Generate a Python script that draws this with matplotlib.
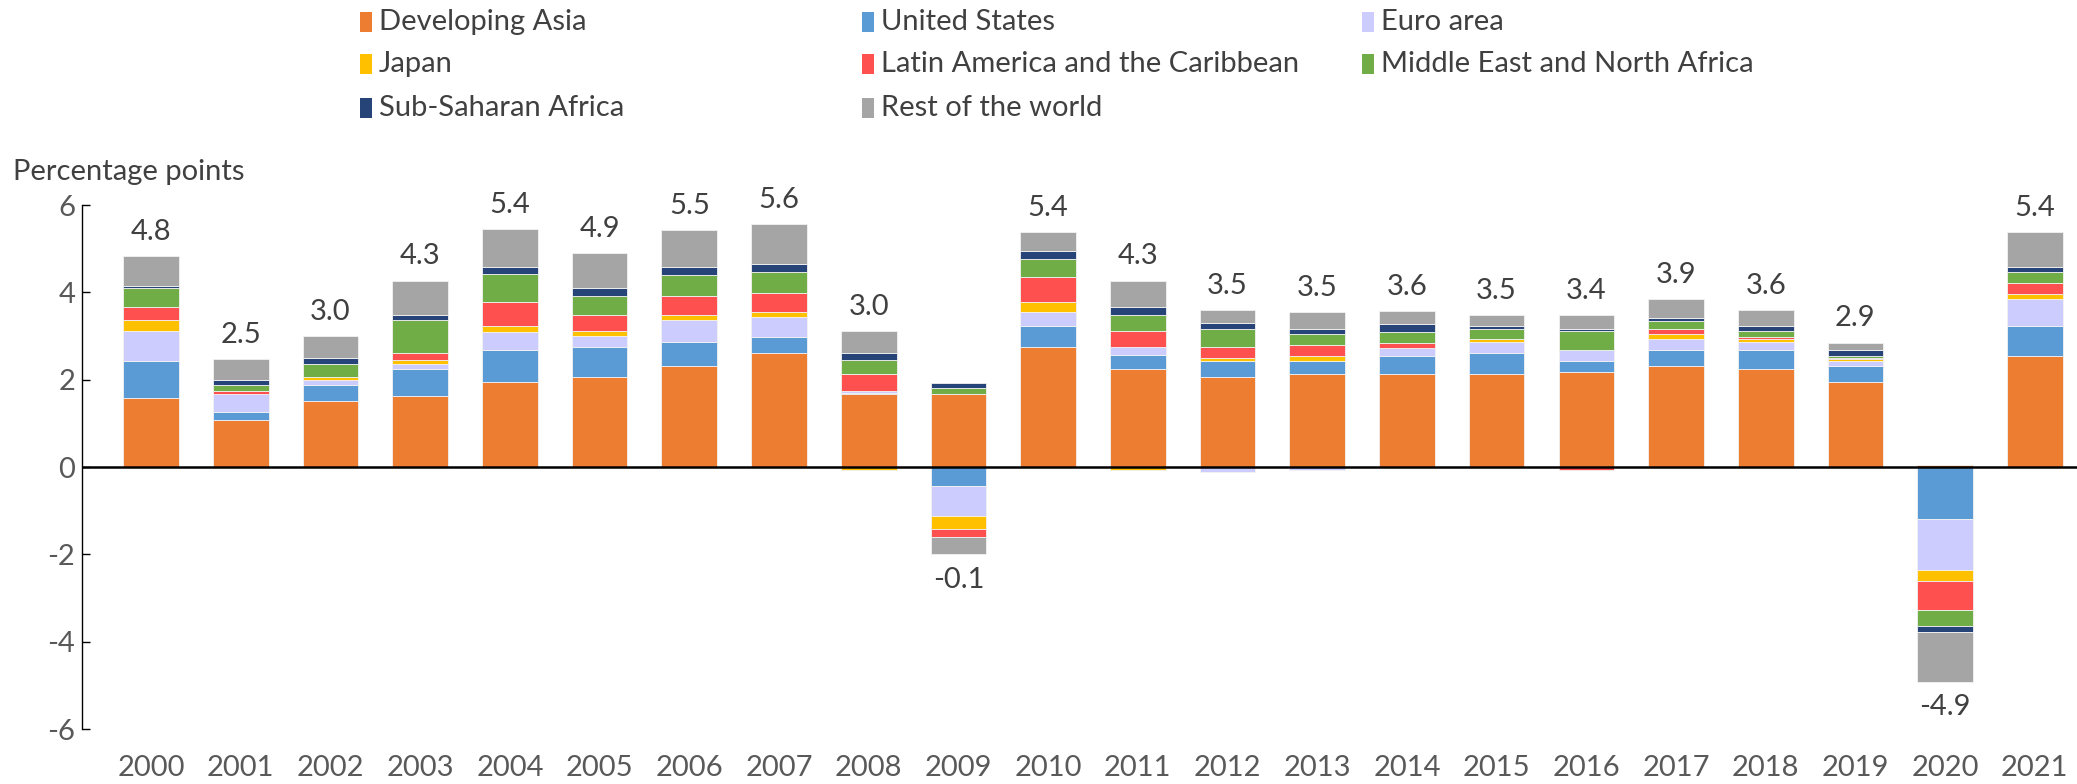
import matplotlib
matplotlib.use("Agg")
import matplotlib.pyplot as plt
from matplotlib.patches import Rectangle
import numpy as np

plt.rcParams['font.family'] = ['Lato', 'DejaVu Sans']

years = [str(y) for y in range(2000, 2022)]
series_names = ["Developing Asia", "United States", "Euro area", "Japan",
                "Latin America and the Caribbean", "Middle East and North Africa",
                "Sub-Saharan Africa", "Rest of the world"]
colors = ["#ED7D31", "#5B9BD5", "#CCCCFF", "#FFC000", "#FF5050", "#70AD47", "#264478", "#A5A5A5"]

developing_asia = [1.58, 1.08, 1.51, 1.63, 1.95, 2.06, 2.31, 2.62, 1.68, 1.68, 2.74, 2.25, 2.06, 2.12, 2.12, 2.12, 2.18, 2.31, 2.25, 1.95, 0.04, 2.55]
united_states = [0.85, 0.18, 0.36, 0.61, 0.72, 0.68, 0.55, 0.36, 0.02, -0.44, 0.48, 0.31, 0.37, 0.30, 0.43, 0.49, 0.24, 0.36, 0.42, 0.36, -1.19, 0.68]
euro_area = [0.68, 0.42, 0.13, 0.13, 0.43, 0.25, 0.50, 0.45, 0.05, -0.68, 0.32, 0.18, -0.12, -0.06, 0.18, 0.25, 0.25, 0.25, 0.19, 0.12, -1.17, 0.62]
japan = [0.25, 0.0, 0.05, 0.07, 0.14, 0.12, 0.12, 0.12, -0.08, -0.30, 0.25, -0.06, 0.06, 0.13, 0.0, 0.06, 0.0, 0.13, 0.06, 0.05, -0.25, 0.12]
latin_america = [0.31, 0.07, 0.01, 0.18, 0.55, 0.37, 0.43, 0.43, 0.38, -0.18, 0.55, 0.37, 0.25, 0.25, 0.12, 0.0, -0.08, 0.12, 0.06, 0.02, -0.67, 0.25]
mena = [0.43, 0.12, 0.31, 0.74, 0.62, 0.43, 0.49, 0.49, 0.31, 0.13, 0.43, 0.37, 0.43, 0.25, 0.25, 0.25, 0.44, 0.18, 0.13, 0.05, -0.37, 0.24]
ssa = [0.05, 0.12, 0.12, 0.12, 0.18, 0.18, 0.18, 0.18, 0.18, 0.12, 0.18, 0.18, 0.12, 0.12, 0.18, 0.06, 0.05, 0.06, 0.12, 0.12, -0.12, 0.12]
rest_of_world = [0.68, 0.48, 0.50, 0.79, 0.85, 0.80, 0.85, 0.92, 0.49, -0.40, 0.43, 0.61, 0.30, 0.37, 0.30, 0.25, 0.32, 0.43, 0.36, 0.18, -1.15, 0.80]
totals = [4.8, 2.5, 3.0, 4.3, 5.4, 4.9, 5.5, 5.6, 3.0, -0.1, 5.4, 4.3, 3.5, 3.5, 3.6, 3.5, 3.4, 3.9, 3.6, 2.9, -4.9, 5.4]
yticks = [-6, -4, -2, 0, 2, 4, 6]

data = [developing_asia, united_states, euro_area, japan, latin_america, mena, ssa, rest_of_world]

FS = 21
W, H = 2077, 784
fig = plt.figure(figsize=(W / 100, H / 100), dpi=100)
ax = fig.add_axes([82 / W, 55 / H, 1 - 82 / W, 524 / H])

x = np.arange(len(years))
pos_base = np.zeros(len(years))
neg_base = np.zeros(len(years))
for vals, col in zip(data, colors):
    v = np.array(vals, dtype=float)
    bottoms = np.where(v >= 0, pos_base, neg_base)
    ax.bar(x, v, bottom=bottoms, width=0.62, color=col, edgecolor="#f2f2f2", linewidth=0.6, zorder=2)
    pos_base = pos_base + np.where(v > 0, v, 0)
    neg_base = neg_base + np.where(v < 0, v, 0)

for i, t in enumerate(totals):
    if t >= 0:
        ax.annotate(f"{t:.1f}", (x[i], pos_base[i]), xytext=(0, 8), textcoords="offset points",
                    ha="center", va="bottom", fontsize=FS, color="#404040")
    else:
        ax.annotate(f"{t:.1f}", (x[i], neg_base[i]), xytext=(0, -9), textcoords="offset points",
                    ha="center", va="top", fontsize=FS, color="#404040")

ax.axhline(0, color="black", linewidth=1.8, zorder=3)
ax.set_xlim(-0.77, 21.47)
ax.set_ylim(-6, 6)
ax.set_yticks(yticks)
ax.set_yticklabels([str(t) for t in yticks])
ax.set_xticks(x)
ax.set_xticklabels(years)
ax.tick_params(axis="x", length=0, pad=19, labelsize=FS, labelcolor="#595959")
ax.tick_params(axis="y", direction="in", length=6, width=1, color="black", pad=5, labelsize=FS, labelcolor="#595959")
for s in ["top", "right", "bottom"]:
    ax.spines[s].set_visible(False)
ax.spines["left"].set_color("black")
ax.spines["left"].set_linewidth(1)

fig.text(13 / W, 1 - 172 / H, "Percentage points", fontsize=FS, color="#404040", ha="left", va="center")

# legend laid out in rows of three
col_x = [360, 862, 1362]
row_y = [22, 64, 108]
for i, (name, col) in enumerate(zip(series_names, colors)):
    r, c = divmod(i, 3)
    x0, yc = col_x[c], row_y[r]
    fig.add_artist(Rectangle((x0 / W, 1 - (yc + 10) / H), 12 / W, 20 / H,
                             transform=fig.transFigure, color=col, lw=0))
    fig.text((x0 + 19) / W, 1 - yc / H, name, fontsize=FS, color="#404040", ha="left", va="center")

fig.savefig("out.png", dpi=100)
